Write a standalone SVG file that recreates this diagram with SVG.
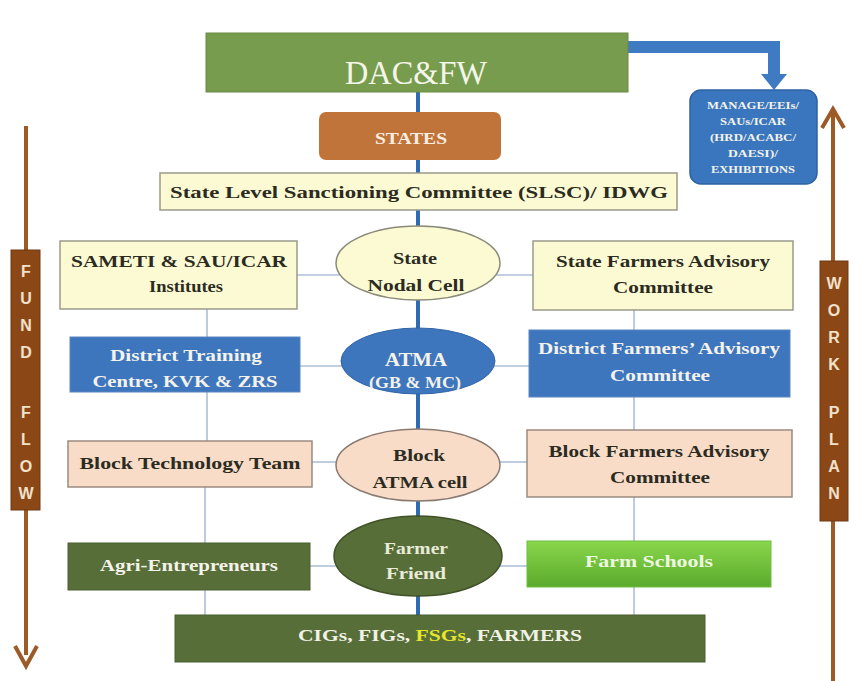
<svg xmlns="http://www.w3.org/2000/svg" width="863" height="681" viewBox="0 0 863 681">
<defs>
<style>
.t{font-family:"Liberation Serif","Times New Roman",serif;font-weight:bold;text-anchor:middle}
.dk{fill:#2b2b22}
.wt{fill:#f4f2ea}
.yel{fill:#fcfad2;stroke:#9a9a8a;stroke-width:1.5}
.pch{fill:#f8dcc8;stroke:#9a8a80;stroke-width:1.5}
.blu{fill:#3e76be;stroke:#5a86c0;stroke-width:1}
.dg{fill:#576e38;stroke:#4a5f30;stroke-width:1}
.thin{stroke:#aebfd8;stroke-width:1.6;fill:none}
.ltr{font-family:"Liberation Sans",Arial,sans-serif;font-weight:bold;font-size:16px;fill:#f2e2cc;text-anchor:middle}
.mg{font-size:10.5px}
</style>
<linearGradient id="fs" x1="0" y1="0" x2="0" y2="1">
<stop offset="0" stop-color="#8ad64c"/>
<stop offset="1" stop-color="#5aaa2c"/>
</linearGradient>
</defs>
<rect width="863" height="681" fill="#ffffff"/>

<g id="connectors">
<line x1="418" y1="92" x2="418" y2="615" stroke="#2f6bb3" stroke-width="4"/>
<line class="thin" x1="297" y1="275" x2="340" y2="275"/>
<line class="thin" x1="496" y1="275" x2="533" y2="275"/>
<line class="thin" x1="300" y1="366" x2="342" y2="366"/>
<line class="thin" x1="494" y1="366" x2="529" y2="366"/>
<line class="thin" x1="312" y1="462" x2="338" y2="462"/>
<line class="thin" x1="498" y1="462" x2="527" y2="462"/>
<line class="thin" x1="310" y1="566" x2="336" y2="566"/>
<line class="thin" x1="500" y1="566" x2="527" y2="566"/>
<line class="thin" x1="207" y1="309" x2="207" y2="337"/>
<line class="thin" x1="207" y1="392" x2="207" y2="441"/>
<line class="thin" x1="205" y1="487" x2="205" y2="543"/>
<line class="thin" x1="205" y1="590" x2="205" y2="615"/>
<line class="thin" x1="634" y1="310" x2="634" y2="330"/>
<line class="thin" x1="634" y1="397" x2="634" y2="430"/>
<line class="thin" x1="634" y1="497" x2="634" y2="541"/>
<line class="thin" x1="634" y1="587" x2="634" y2="615"/>
<path d="M627 47 H774 V76" fill="none" stroke="#3f7bc2" stroke-width="12"/>
<polygon points="761,74 787,74 774,90" fill="#3f7bc2"/>
</g>

<g id="fund-flow">
<line x1="26" y1="126" x2="26" y2="655" stroke="#9b5a26" stroke-width="4"/>
<polyline points="15,646 26,666 37,646" fill="none" stroke="#9b5a26" stroke-width="4" stroke-linejoin="miter"/>
<rect x="11" y="250" width="29" height="260" fill="#8b4716" stroke="#6e3a12" stroke-width="1"/>
<text class="ltr" x="26" y="277">F</text>
<text class="ltr" x="26" y="304">U</text>
<text class="ltr" x="26" y="331">N</text>
<text class="ltr" x="26" y="358">D</text>
<text class="ltr" x="26" y="418">F</text>
<text class="ltr" x="26" y="445">L</text>
<text class="ltr" x="26" y="472">O</text>
<text class="ltr" x="26" y="499">W</text>
</g>

<g id="work-plan">
<line x1="833" y1="112" x2="833" y2="681" stroke="#9b5a26" stroke-width="4"/>
<polyline points="822,128 833,109 844,128" fill="none" stroke="#9b5a26" stroke-width="4"/>
<rect x="820" y="261" width="28" height="260" fill="#8b4716" stroke="#6e3a12" stroke-width="1"/>
<text class="ltr" x="834" y="289">W</text>
<text class="ltr" x="834" y="316">O</text>
<text class="ltr" x="834" y="343">R</text>
<text class="ltr" x="834" y="370">K</text>
<text class="ltr" x="834" y="418">P</text>
<text class="ltr" x="834" y="445">L</text>
<text class="ltr" x="834" y="472">A</text>
<text class="ltr" x="834" y="499">N</text>
</g>

<g id="dacfw">
<rect x="206" y="33" width="422" height="59" fill="#789c4e" stroke="#6a8a45" stroke-width="1"/>
<text class="t" x="416" y="84" font-size="34" fill="#f4f6ea" style="font-weight:normal" textLength="142" lengthAdjust="spacingAndGlyphs">DAC&amp;FW</text>
</g>

<g id="manage">
<rect x="690" y="90" width="127" height="94" rx="11" fill="#3a76be" stroke="#2e62a4" stroke-width="1.5"/>
<text class="t wt mg" x="753" y="109" textLength="92" lengthAdjust="spacingAndGlyphs">MANAGE/EEIs/</text>
<text class="t wt mg" x="753" y="125" textLength="66" lengthAdjust="spacingAndGlyphs">SAUs/ICAR</text>
<text class="t wt mg" x="753" y="141" textLength="86" lengthAdjust="spacingAndGlyphs">(HRD/ACABC/</text>
<text class="t wt mg" x="753" y="157" textLength="50" lengthAdjust="spacingAndGlyphs">DAESI)/</text>
<text class="t wt mg" x="753" y="173" textLength="84" lengthAdjust="spacingAndGlyphs">EXHIBITIONS</text>
</g>

<g id="states">
<rect x="319" y="112" width="182" height="48" rx="7" fill="#c0743a"/>
<text class="t" x="411" y="144" font-size="17" fill="#f8efe2" textLength="72" lengthAdjust="spacingAndGlyphs">STATES</text>
</g>

<g id="slsc">
<rect class="yel" x="160" y="173" width="517" height="37"/>
<text class="t dk" x="419" y="198" font-size="17" textLength="498" lengthAdjust="spacingAndGlyphs">State Level Sanctioning Committee (SLSC)/ IDWG</text>
</g>

<g id="sameti">
<rect class="yel" x="60" y="241" width="237" height="68"/>
<text class="t dk" x="179" y="267" font-size="17" textLength="216" lengthAdjust="spacingAndGlyphs">SAMETI &amp; SAU/ICAR</text>
<text class="t dk" x="186" y="292" font-size="17" textLength="74" lengthAdjust="spacingAndGlyphs">Institutes</text>
</g>

<g id="state-nodal-cell">
<ellipse cx="418" cy="263" rx="82" ry="37" fill="#fcfad2" stroke="#8a8a7a" stroke-width="1.5"/>
<text class="t dk" x="415" y="264" font-size="17" textLength="44" lengthAdjust="spacingAndGlyphs">State</text>
<text class="t dk" x="416" y="291" font-size="17" textLength="97" lengthAdjust="spacingAndGlyphs">Nodal Cell</text>
</g>

<g id="sfac">
<rect class="yel" x="533" y="241" width="260" height="69"/>
<text class="t dk" x="663" y="267" font-size="17" textLength="214" lengthAdjust="spacingAndGlyphs">State Farmers Advisory</text>
<text class="t dk" x="663" y="293" font-size="17" textLength="100" lengthAdjust="spacingAndGlyphs">Committee</text>
</g>

<g id="dtc">
<rect class="blu" x="70" y="337" width="230" height="55"/>
<text class="t wt" x="186" y="361" font-size="17" textLength="152" lengthAdjust="spacingAndGlyphs">District Training</text>
<text class="t wt" x="185" y="387" font-size="17" textLength="185" lengthAdjust="spacingAndGlyphs">Centre, KVK &amp; ZRS</text>
</g>

<g id="atma">
<ellipse cx="418" cy="361" rx="77" ry="33" fill="#3e76be" stroke="#2f64a8" stroke-width="1"/>
<text class="t wt" x="416" y="366" font-size="18" textLength="62" lengthAdjust="spacingAndGlyphs">ATMA</text>
<text class="t wt" x="415" y="388" font-size="16" textLength="92" lengthAdjust="spacingAndGlyphs">(GB &amp; MC)</text>
</g>

<g id="dfac">
<rect class="blu" x="529" y="330" width="261" height="67"/>
<text class="t wt" x="659" y="354" font-size="17" textLength="242" lengthAdjust="spacingAndGlyphs">District Farmers’ Advisory</text>
<text class="t wt" x="660" y="381" font-size="17" textLength="100" lengthAdjust="spacingAndGlyphs">Committee</text>
</g>

<g id="btt">
<rect class="pch" x="68" y="441" width="244" height="46"/>
<text class="t dk" x="190" y="469" font-size="17" textLength="221" lengthAdjust="spacingAndGlyphs">Block Technology Team</text>
</g>

<g id="block-atma-cell">
<ellipse cx="418" cy="465" rx="82" ry="36" fill="#f8dcc8" stroke="#8a7a70" stroke-width="1.5"/>
<text class="t dk" x="419" y="461" font-size="17" textLength="52" lengthAdjust="spacingAndGlyphs">Block</text>
<text class="t dk" x="420" y="488" font-size="17" textLength="95" lengthAdjust="spacingAndGlyphs">ATMA cell</text>
</g>

<g id="bfac">
<rect class="pch" x="527" y="430" width="265" height="67"/>
<text class="t dk" x="659" y="457" font-size="17" textLength="221" lengthAdjust="spacingAndGlyphs">Block Farmers Advisory</text>
<text class="t dk" x="660" y="483" font-size="17" textLength="100" lengthAdjust="spacingAndGlyphs">Committee</text>
</g>

<g id="agri">
<rect class="dg" x="68" y="543" width="242" height="47"/>
<text class="t wt" x="189" y="571" font-size="17" textLength="178" lengthAdjust="spacingAndGlyphs">Agri-Entrepreneurs</text>
</g>

<g id="farmer-friend">
<ellipse cx="418" cy="556" rx="84" ry="40" fill="#576e38" stroke="#3f5228" stroke-width="1.5"/>
<text class="t" x="416" y="554" font-size="17" fill="#e8ecd8" textLength="64" lengthAdjust="spacingAndGlyphs">Farmer</text>
<text class="t" x="416" y="579" font-size="17" fill="#e8ecd8" textLength="60" lengthAdjust="spacingAndGlyphs">Friend</text>
</g>

<g id="farm-schools">
<rect x="527" y="541" width="244" height="46" fill="url(#fs)" stroke="#6fbf3e" stroke-width="1"/>
<text class="t" x="649" y="567" font-size="17" fill="#eef8e0" textLength="128" lengthAdjust="spacingAndGlyphs">Farm  Schools</text>
</g>

<g id="cigs">
<rect class="dg" x="175" y="615" width="530" height="47"/>
<text class="t" x="440" y="641" font-size="17" fill="#f0f2e6" textLength="284" lengthAdjust="spacingAndGlyphs">CIGs, FIGs, <tspan fill="#e6e62a">FSGs</tspan>, FARMERS</text>
</g>
</svg>
